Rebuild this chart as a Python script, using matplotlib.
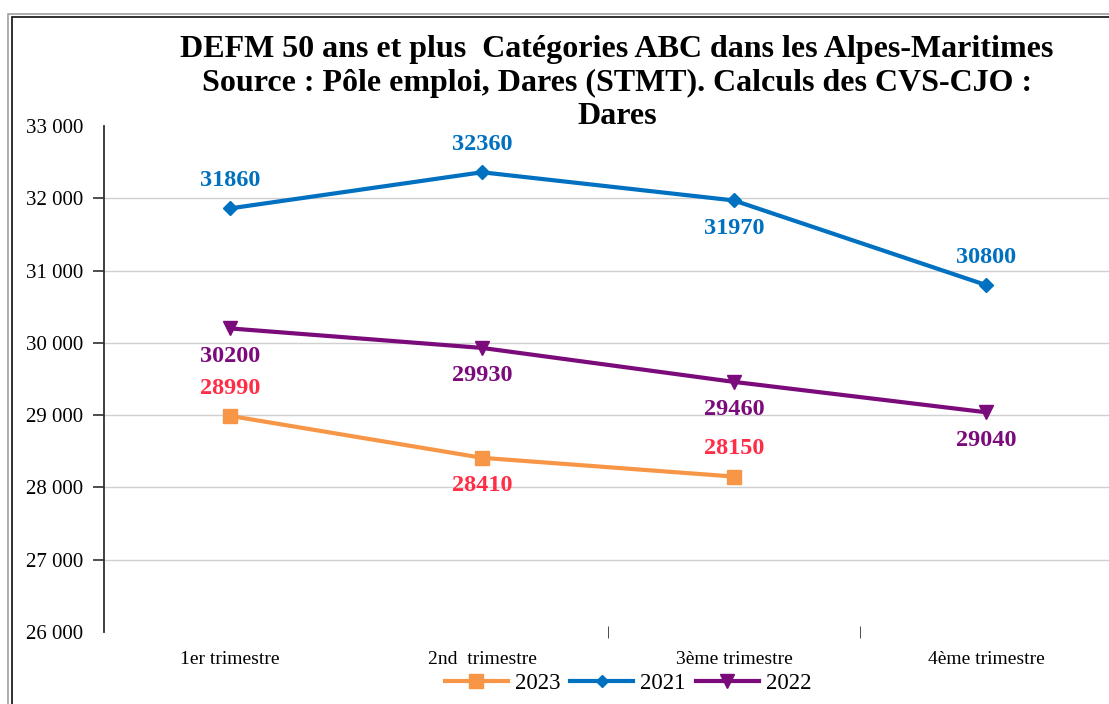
import matplotlib.pyplot as plt
from matplotlib.patches import Rectangle
from matplotlib.lines import Line2D

# Quarters and series values
quarters = ['1er trimestre', '2nd  trimestre', '3ème trimestre', '4ème trimestre']
v2023 = [28990, 28410, 28150]
v2021 = [31860, 32360, 31970, 30800]
v2022 = [30200, 29930, 29460, 29040]

# label placement for each point: +1 above, -1 below
pos2023 = [1, -1, 1]
pos2021 = [1, 1, -1, 1]
pos2022 = [-1, -1, -1, -1]

yticks = [26000, 27000, 28000, 29000, 30000, 31000, 32000, 33000]

plt.rcParams['font.family'] = ['Liberation Serif', 'DejaVu Serif']

W, H = 1109, 704
fig = plt.figure(figsize=(W / 100, H / 100), dpi=100)

# chart frame (gray outer line + dark inner line)
fig.patches.append(Rectangle((8 / W, -0.1), 1.2, 1 - 14 / H + 0.1, transform=fig.transFigure,
                             fill=False, edgecolor='#a0a0a0', linewidth=1.2))
fig.patches.append(Rectangle((12 / W, -0.1), 1.2, 1 - 17 / H + 0.1, transform=fig.transFigure,
                             fill=False, edgecolor='#202020', linewidth=1.3))

left, right = 104, 1112
bottom, top = 632, 126
ax = fig.add_axes([left / W, 1 - bottom / H, (right - left) / W, (bottom - top) / H])

x = list(range(len(quarters)))

ax.plot(x[:len(v2023)], v2023, color='#F79646', linewidth=3, marker='s', markersize=9.5,
        label='2023', zorder=3)
ax.plot(x, v2021, color='#0070C0', linewidth=3, marker='D', markersize=7,
        label='2021', zorder=3)
ax.plot(x, v2022, color='#7B0A7B', linewidth=3, marker='v', markersize=10,
        label='2022', zorder=3)


def add_labels(vals, where, color):
    for i, (v, p) in enumerate(zip(vals, where)):
        ax.annotate(str(v), (i, v), xytext=(0, 20 * p), textcoords='offset points',
                    ha='center', va='center', color=color, fontsize=17.5, fontweight='bold')


add_labels(v2023, pos2023, '#FF2D46')
add_labels(v2021, pos2021, '#0070C0')
add_labels(v2022, pos2022, '#7B0A7B')

ax.set_xlim(-0.5, 3.5)
ax.set_ylim(26000, 33000)
ax.set_yticks(yticks)
ax.set_yticklabels([f'{t:,}'.replace(',', ' ') for t in yticks], fontsize=15)
ax.tick_params(axis='y', which='major', length=0, pad=15)
ax.yaxis.remove_overlapping_locs = False
ax.set_yticks(yticks[1:-1], minor=True)
ax.tick_params(axis='y', which='minor', length=8, direction='out', color='#303030', width=1.2)
ax.set_xticks(x)
ax.set_xticklabels(quarters, fontsize=14)
ax.tick_params(axis='x', length=0, pad=14)
ax.set_xticks([1.5, 2.5], minor=True)
ax.tick_params(axis='x', which='minor', length=8, direction='inout', color='#303030')

for t in yticks[1:-1]:
    ax.axhline(t, color='#d0d0d0', linewidth=1, zorder=1)

for s in ['top', 'right', 'bottom']:
    ax.spines[s].set_visible(False)
ax.spines['left'].set_color('#303030')
ax.spines['left'].set_linewidth(1.3)

fig.text(617 / W, 1 - 83 / H,
         'DEFM 50 ans et plus  Catégories ABC dans les Alpes-Maritimes\n'
         'Source : Pôle emploi, Dares (STMT). Calculs des CVS-CJO :\nDares',
         ha='center', va='center', fontsize=23, fontweight='bold', linespacing=1.22)

handles = [Line2D([], [], color='#F79646', linewidth=3, marker='s', markersize=10),
           Line2D([], [], color='#0070C0', linewidth=3, marker='D', markersize=6),
           Line2D([], [], color='#7B0A7B', linewidth=3, marker='v', markersize=10)]
fig.legend(handles, ['2023', '2021', '2022'], loc='center', bbox_to_anchor=(628 / W, 1 - 683 / H),
           ncol=3, frameon=False, fontsize=16.5, handlelength=2.75, columnspacing=0.44,
           handletextpad=0.3)

fig.savefig('out.png', dpi=100)
